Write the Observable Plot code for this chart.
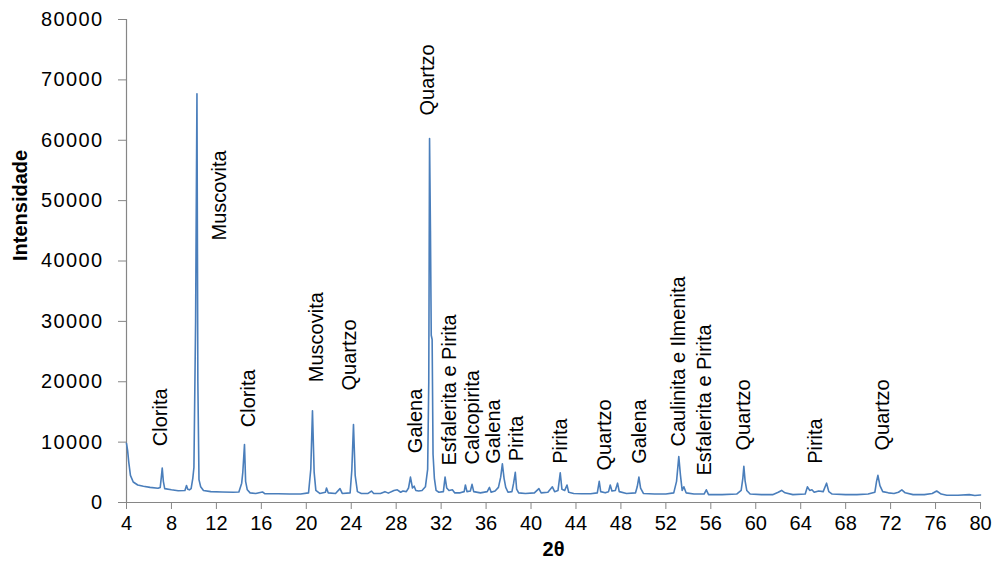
<!DOCTYPE html>
<html>
<head>
<meta charset="utf-8">
<script src="https://cdn.jsdelivr.net/npm/d3@7"></script>
<script src="https://cdn.jsdelivr.net/npm/@observablehq/plot@0.6"></script>
<style>
  html, body { margin: 0; padding: 0; background: #fff; }
  #chart { width: 998px; height: 571px; }
  g[aria-label="y-axis tick label"] text { letter-spacing: 1.4px; }
</style>
</head>
<body>
<div id="chart"></div>
<script>
// Diffractogram profile (2θ in degrees, intensity in counts)
const twoTheta = [
  4.0, 4.1, 4.2, 4.35, 4.6, 5.0, 5.5, 6.1, 6.8, 7.0, 7.1, 7.18, 7.28, 7.4, 8.0, 8.6, 9.2, 9.34, 9.45, 9.6,
  9.75, 9.9, 10.0, 10.15, 10.27, 10.35, 10.45, 10.6, 10.85, 11.5, 12.5, 13.5, 14.0, 14.25, 14.35, 14.5, 14.6, 14.75, 15.0, 15.5,
  16.1, 16.3, 17.5, 18.5, 19.5, 20.2, 20.4, 20.55, 20.7, 20.85, 21.2, 21.7, 21.8, 21.95, 22.6, 23.0, 23.2, 23.9, 24.05, 24.2,
  24.35, 24.55, 24.9, 25.5, 25.8, 26.0, 26.6, 27.0, 27.3, 27.8, 28.1, 28.4, 28.6, 28.9, 29.1, 29.27, 29.45, 29.6, 29.75, 30.0,
  30.3, 30.6, 30.8, 30.9, 30.97, 31.05, 31.12, 31.2, 31.28, 31.4, 31.55, 31.8, 32.2, 32.35, 32.5, 32.7, 33.0, 33.2, 33.7, 34.05,
  34.16, 34.3, 34.6, 34.75, 34.9, 35.5, 36.1, 36.3, 36.45, 36.8, 37.1, 37.3, 37.45, 37.6, 37.75, 37.95, 38.3, 38.45, 38.6, 38.72,
  38.9, 39.5, 40.3, 40.7, 40.9, 41.5, 41.9, 42.1, 42.4, 42.6, 42.75, 43.0, 43.2, 43.35, 43.8, 44.5, 45.3, 45.9, 46.07, 46.2,
  46.6, 46.9, 47.05, 47.2, 47.5, 47.7, 47.85, 48.5, 49.3, 49.45, 49.6, 49.75, 50.0, 51.0, 52.0, 52.7, 52.95, 53.15, 53.3, 53.45,
  53.6, 53.8, 54.5, 55.4, 55.6, 55.8, 57.0, 58.3, 58.7, 58.85, 58.94, 59.05, 59.2, 59.5, 60.5, 61.5, 62.0, 62.3, 62.6, 63.3,
  64.4, 64.6, 64.8, 65.0, 65.2, 65.6, 66.0, 66.3, 66.5, 66.8, 68.0, 69.0, 70.0, 70.6, 70.75, 70.87, 71.05, 71.3, 71.8, 72.3,
  72.7, 73.0, 73.3, 74.0, 75.0, 75.7, 76.1, 76.5, 77.0, 78.0, 79.0, 79.5, 80.0
];
const intensity = [
  9800, 8600, 6700, 4500, 3400, 2900, 2700, 2500, 2350, 2500, 4200, 5700, 3500, 2300, 2100, 1950, 2000, 2800, 2200, 2100,
  2300, 4000, 5800, 30000, 67700, 20000, 3800, 2600, 2000, 1800, 1750, 1700, 1750, 3200, 5000, 9600, 3500, 2100, 1600, 1500,
  1750, 1450, 1450, 1400, 1400, 1600, 5500, 15200, 5000, 2000, 1500, 1700, 2400, 1600, 1500, 2300, 1500, 1600, 5300, 12900,
  4500, 1800, 1500, 1500, 1900, 1500, 1500, 1800, 1550, 2000, 2100, 1700, 1900, 1800, 2400, 4200, 2400, 2700, 2000, 1900,
  2000, 2600, 5500, 20000, 60300, 45000, 27700, 27000, 8000, 4000, 2000, 1700, 1800, 4200, 2400, 2000, 2100, 1600, 1600, 1800,
  2900, 1800, 1900, 3000, 1800, 1600, 1800, 2500, 1700, 1900, 2500, 4200, 6400, 4000, 2500, 1700, 1800, 3200, 5000, 2200,
  1600, 1500, 1600, 2300, 1600, 1700, 2600, 1800, 2000, 4900, 2200, 2000, 2900, 1700, 1500, 1450, 1450, 1600, 3500, 1800,
  1600, 1800, 2900, 1900, 2000, 3200, 1800, 1500, 1600, 2600, 4200, 2400, 1500, 1400, 1400, 1600, 3500, 7600, 4500, 2000,
  2600, 1600, 1400, 1400, 2100, 1300, 1300, 1400, 2000, 4000, 6000, 3600, 2000, 1400, 1300, 1300, 1700, 2000, 1600, 1300,
  1400, 2600, 2000, 2100, 1700, 1900, 1800, 3200, 1800, 1400, 1300, 1300, 1400, 1700, 3500, 4500, 2800, 1800, 1600, 1500,
  1700, 2100, 1600, 1300, 1300, 1500, 1900, 1400, 1200, 1200, 1300, 1150, 1250
];

// Phase labels: text, 2θ position, intensity at which the (rotated) label starts
const labelText = [
  "Clorita", "Muscovita", "Clorita", "Muscovita", "Quartzo", "Galena", "Quartzo",
  "Esfalerita e Pirita", "Calcopirita", "Galena", "Pirita", "Pirita", "Quartzo", "Galena",
  "Caulinita e Ilmenita", "Esfalerita e Pirita", "Quartzo", "Pirita", "Quartzo"
];
const labelX = [
  7.03, 12.3, 14.89, 20.92, 23.82, 29.75, 30.76,
  32.72, 34.76, 36.64, 38.68, 42.62, 46.52, 49.65,
  53.12, 55.42, 58.94, 65.34, 71.25
];
const labelY = [
  9330, 43400, 12470, 19930, 18550, 8170, 64100,
  6130, 6290, 6400, 6840, 6400, 5300, 6400,
  9280, 4470, 8610, 6400, 8610
];

const xTicks = [4, 8, 12, 16, 20, 24, 28, 32, 36, 40, 44, 48, 52, 56, 60, 64, 68, 72, 76, 80];
const yTicks = [0, 10000, 20000, 30000, 40000, 50000, 60000, 70000, 80000];
const xTitle = "2θ";
const yTitle = "Intensidade";

const profile = twoTheta.map((t, i) => ({t, v: intensity[i]}));
const labels = labelText.map((s, i) => ({s, x: labelX[i], y: labelY[i]}));

const axisGray = "#868686";
const chart = Plot.plot({
  width: 998,
  height: 571,
  marginLeft: 126,
  marginRight: 18,
  marginTop: 19,
  marginBottom: 69,
  style: {fontFamily: "'Liberation Sans', Arial, sans-serif", fontSize: "20px", background: "#fff", color: "#000"},
  x: {domain: [4, 80]},
  y: {domain: [0, 80000]},
  marks: [
    Plot.axisX({ticks: xTicks, tickSize: 7, tickFormat: () => "", stroke: axisGray, label: null}),
    Plot.text(xTicks, {x: d => d, frameAnchor: "bottom", dy: 27, text: d => String(d), fontSize: 20, fill: "#000"}),
    Plot.axisY({ticks: yTicks, tickSize: 8, tickPadding: 15, tickFormat: d => String(d), stroke: axisGray, fill: "#000", label: null}),
    Plot.ruleX([4], {stroke: axisGray, strokeWidth: 1.2}),
    Plot.ruleY([0], {stroke: axisGray, strokeWidth: 1.2}),
    Plot.line(profile, {x: "t", y: "v", stroke: "#4a7ebb", strokeWidth: 1.6, curve: "linear"}),
    Plot.text(labels, {x: "x", y: "y", text: "s", rotate: -90, textAnchor: "start", fontSize: 20, fill: "#000"}),
    Plot.text([xTitle], {frameAnchor: "bottom", dy: 53, text: d => d, fontWeight: "bold", fontSize: 20, fill: "#000"}),
    Plot.text([yTitle], {frameAnchor: "left", dx: -106, rotate: -90, text: d => d, fontWeight: "bold", fontSize: 20, fill: "#000"})
  ]
});
document.getElementById("chart").appendChild(chart);
</script>
</body>
</html>
